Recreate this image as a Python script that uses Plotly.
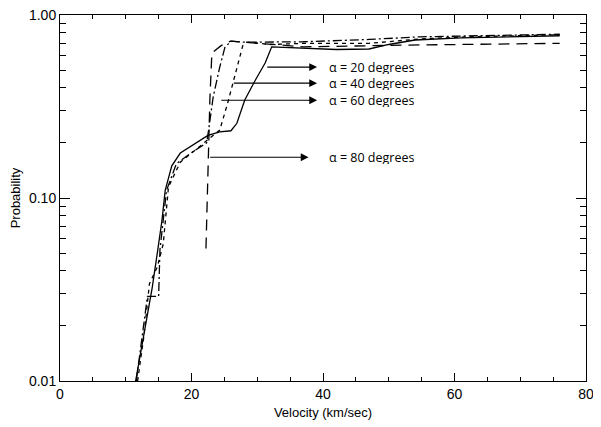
import numpy as np
import plotly.graph_objects as go

# Probability vs velocity curves for four impact angles.
v_a20 = [11.5, 13.0, 14.0, 14.8, 15.5, 16.0, 17.0, 18.3, 19.8, 21.3, 22.5, 24.3, 26.0,
         26.9, 28.1, 29.7, 31.2, 32.2, 37.0, 42.0, 47.0, 50.0, 54.0, 61.0, 76.0]
p_a20 = [0.010, 0.020, 0.032, 0.050, 0.075, 0.110, 0.150, 0.176, 0.190, 0.207, 0.220, 0.230,
         0.233, 0.256, 0.343, 0.440, 0.547, 0.670, 0.657, 0.648, 0.652, 0.690, 0.730, 0.750,
         0.770]

v_a40 = [11.8, 12.8, 13.6, 14.8, 15.7, 16.5, 18.3, 20.8, 23.1, 24.3, 25.5, 26.7, 27.8,
         28.4, 32.0, 37.0, 47.0, 54.8, 62.0, 76.0]
p_a40 = [0.010, 0.018, 0.034, 0.042, 0.056, 0.115, 0.157, 0.186, 0.215, 0.235, 0.330, 0.480,
         0.680, 0.710, 0.690, 0.700, 0.700, 0.740, 0.760, 0.780]

v_a60 = [11.6, 12.5, 13.3, 15.0, 15.2, 16.2, 17.7, 20.3, 22.3, 22.6, 23.3, 24.3, 25.1,
         26.1, 28.0, 37.0, 47.0, 54.8, 60.8, 76.0]
p_a60 = [0.010, 0.018, 0.029, 0.029, 0.052, 0.110, 0.154, 0.180, 0.200, 0.235, 0.357, 0.520,
         0.670, 0.720, 0.710, 0.714, 0.735, 0.760, 0.767, 0.785]

v_a80 = [22.2, 22.5, 22.8, 23.1, 24.5, 25.9, 32.0, 37.0, 53.2, 76.0]
p_a80 = [0.053, 0.150, 0.350, 0.620, 0.680, 0.720, 0.690, 0.670, 0.685, 0.700]

labels = ["α = 20 degrees", "α = 40 degrees", "α = 60 degrees", "α = 80 degrees"]
# arrow tail velocity, arrow head velocity, probability level
arrow_tail = [31.3, 26.2, 24.3, 22.6]
arrow_head = [39.1, 39.1, 39.1, 37.8]
arrow_p = [0.519, 0.424, 0.342, 0.167]

fig = go.Figure()
styles = [("solid", v_a20, p_a20), ("4px,4px", v_a40, p_a40),
          ("9px,3px,2px,3px", v_a60, p_a60), ("11px,7px", v_a80, p_a80)]
for dash, v, p in styles:
    fig.add_trace(go.Scatter(x=v, y=p, mode="lines",
                             line=dict(color="black", width=1.3, dash=dash),
                             showlegend=False))

for lab, x0, x1, p in zip(labels, arrow_tail, arrow_head, arrow_p):
    fig.add_annotation(x=x1, y=np.log10(p), ax=x0, ay=np.log10(p),
                       xref="x", yref="y", axref="x", ayref="y",
                       text="", showarrow=True, arrowhead=2, arrowsize=1.3,
                       arrowwidth=1.2, arrowcolor="black")
    fig.add_annotation(x=40.7, y=np.log10(p), xref="x", yref="y", text=lab,
                       showarrow=False, xanchor="left", height=14, borderpad=0,
                       font=dict(family="Open Sans", size=12.5, color="black"))

minor_y = [k * 10 ** e for e in (-2, -1) for k in range(2, 10)]

fig.update_xaxes(range=[0, 80], tickvals=[0, 20, 40, 60, 80], automargin=False,
                 ticks="inside", ticklen=8, tickcolor="black", tickwidth=1,
                 minor=dict(tickvals=[5, 10, 15, 25, 30, 35, 45, 50, 55, 65, 70, 75],
                            ticks="inside", ticklen=4, tickcolor="black"),
                 showline=True, linecolor="black", linewidth=1, mirror="ticks",
                 showgrid=False, zeroline=False, ticklabeloverflow="allow",
                 title=dict(text="Velocity (km/sec)", standoff=7,
                            font=dict(family="Liberation Sans", size=13, color="black")),
                 tickfont=dict(family="Liberation Sans", size=14, color="black"))
fig.update_yaxes(type="log", range=[-2, 0], tickvals=[0.01, 0.1, 1], automargin=False,
                 ticktext=["0.01", "0.10", "1.00"], ticklabeloverflow="allow",
                 ticks="inside", ticklen=10, tickcolor="black", tickwidth=1,
                 minor=dict(tickvals=minor_y, ticks="inside", ticklen=6, tickcolor="black"),
                 showline=True, linecolor="black", linewidth=1, mirror="ticks",
                 showgrid=False, zeroline=False,
                 title=dict(text="Probability", standoff=6,
                            font=dict(family="Liberation Sans", size=13, color="black")),
                 tickfont=dict(family="Liberation Sans", size=14, color="black"))

# page body adds an 8px offset, so the figure is a bit smaller than the window
fig.update_layout(width=593, height=419, plot_bgcolor="white", paper_bgcolor="white",
                  margin=dict(l=52, r=15, t=7, b=46))

fig.write_html("out.html")
